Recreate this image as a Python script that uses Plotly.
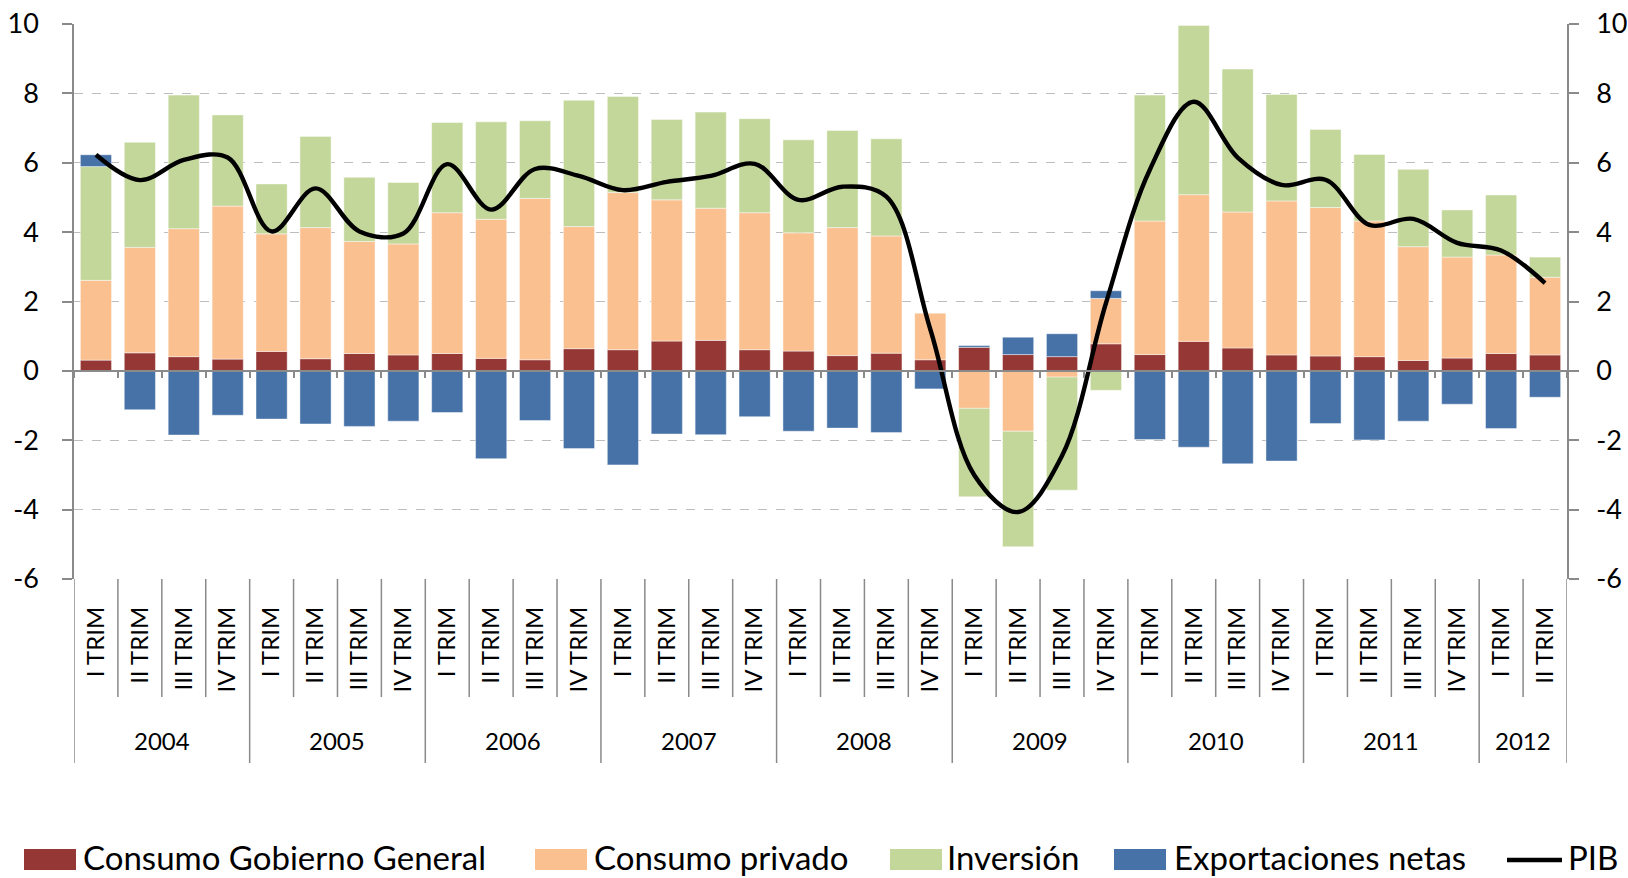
import plotly.graph_objects as go

# ---------------- data ----------------
year_labels = ["2004", "2005", "2006", "2007", "2008", "2009", "2010", "2011", "2012"]
quarters_per_year = [4, 4, 4, 4, 4, 4, 4, 4, 2]
quarter_names = ["I TRIM", "II TRIM", "III TRIM", "IV TRIM"]

consumo_gobierno = [0.31, 0.52, 0.41, 0.34, 0.56, 0.35, 0.50, 0.46, 0.50, 0.36, 0.32, 0.64,
                    0.61, 0.86, 0.88, 0.61, 0.57, 0.44, 0.51, 0.32, 0.68, 0.47, 0.41, 0.78,
                    0.47, 0.85, 0.66, 0.46, 0.43, 0.41, 0.30, 0.37, 0.50, 0.46]
consumo_privado = [2.30, 3.04, 3.69, 4.41, 3.39, 3.78, 3.23, 3.20, 4.06, 4.01, 4.65, 3.52,
                   4.53, 4.07, 3.81, 3.95, 3.41, 3.69, 3.38, 1.35, -1.08, -1.74, -0.18, 1.31,
                   3.85, 4.23, 3.92, 4.44, 4.28, 3.91, 3.28, 2.91, 2.84, 2.24]
inversion = [3.28, 3.03, 3.85, 2.63, 1.44, 2.63, 1.85, 1.77, 2.60, 2.81, 2.24, 3.64,
             2.77, 2.32, 2.77, 2.71, 2.68, 2.80, 2.80, 0.00, -2.55, -3.33, -3.26, -0.56,
             3.63, 4.88, 4.12, 3.07, 2.25, 1.92, 2.23, 1.36, 1.73, 0.58]
exportaciones = [0.34, -1.12, -1.85, -1.28, -1.39, -1.53, -1.60, -1.45, -1.20, -2.53, -1.43, -2.24,
                 -2.71, -1.82, -1.84, -1.32, -1.74, -1.65, -1.78, -0.52, 0.05, 0.50, 0.66, 0.22,
                 -1.98, -2.20, -2.68, -2.60, -1.52, -1.99, -1.45, -0.96, -1.66, -0.76]
pib = [6.23, 5.50, 6.08, 6.15, 4.02, 5.26, 4.02, 3.96, 5.96, 4.65, 5.82, 5.62,
       5.21, 5.45, 5.62, 5.97, 4.93, 5.31, 5.02, 1.20, -3.00, -4.07, -2.45, 1.95,
       5.80, 7.76, 6.15, 5.36, 5.51, 4.21, 4.38, 3.69, 3.47, 2.53]

y_range = [-6, 10]
y_ticks = [-6, -4, -2, 0, 2, 4, 6, 8, 10]
y_ticktext = [str(v) for v in y_ticks]  # plain hyphen minus, as in the reference

# ---------------- derived categories ----------------
quarter_labels = []
categories = []
for yl, nq in zip(year_labels, quarters_per_year):
    for q in quarter_names[:nq]:
        quarter_labels.append(q)
        categories.append(f"{q} {yl}")
n = len(categories)

# ---------------- styling ----------------
W, H = 1628, 878
ML, MR, MT, MB = 74, 61, 24, 299
PW, PH = W - ML - MR, H - MT - MB
FONT = "Lato, 'Open Sans', sans-serif"
AXIS_GRAY = "#8a8a8a"
GRID_GRAY = "#bdbdbd"

C_GOB = "#953735"
C_PRIV = "#FAC090"
C_INV = "#C4D79B"
C_EXP = "#4672A8"


def px_x(p):
    return (p - ML) / PW


def px_y(p):
    return (H - MB - p) / PH


fig = go.Figure()
edge = dict(color="rgba(255,255,255,0.55)", width=0.8)
for name, vals, col in [("Consumo Gobierno General", consumo_gobierno, C_GOB),
                        ("Consumo privado", consumo_privado, C_PRIV),
                        ("Inversión", inversion, C_INV),
                        ("Exportaciones netas", exportaciones, C_EXP)]:
    fig.add_trace(go.Bar(x=categories, y=vals, name=name, marker=dict(color=col, line=edge),
                         showlegend=False, xaxis="x", yaxis="y"))

fig.add_trace(go.Scatter(x=categories, y=pib, name="PIB", mode="lines",
                         line=dict(color="black", width=4.4, shape="spline", smoothing=1.0),
                         showlegend=False, xaxis="x2", yaxis="y2"))

zero_pos = (0 - y_range[0]) / (y_range[1] - y_range[0])

yaxis_common = dict(range=y_range, tickmode="array", tickvals=y_ticks, ticktext=y_ticktext,
                    zeroline=False, showline=True, linecolor=AXIS_GRAY, linewidth=1.5,
                    ticks="outside", ticklen=10, tickcolor=AXIS_GRAY, tickwidth=1.5,
                    tickfont=dict(size=27, family=FONT, color="black"), automargin=False)

fig.update_layout(
    width=W, height=H,
    margin=dict(l=ML, r=MR, t=MT, b=MB, autoexpand=False),
    paper_bgcolor="white", plot_bgcolor="white",
    barmode="relative", bargap=0.29,
    font=dict(family=FONT, color="black"),
    xaxis=dict(type="category", range=[-0.5, n - 0.5], showgrid=False, showline=False,
               zeroline=False, ticks="", tickmode="array", tickvals=categories,
               ticktext=quarter_labels, tickangle=-90, automargin=False,
               tickfont=dict(size=24, family=FONT, color="black"), ticklabelstandoff=22),
    xaxis2=dict(type="category", overlaying="x", anchor="free", position=zero_pos,
                range=[-0.5, n - 0.5], showgrid=False, showline=True, linecolor=AXIS_GRAY,
                linewidth=2, ticks="outside", tickson="boundaries", ticklen=6,
                tickcolor=AXIS_GRAY, tickwidth=1.5, showticklabels=False, zeroline=False,
                automargin=False),
    yaxis=dict(showgrid=True, gridcolor=GRID_GRAY, gridwidth=1.3, griddash="dash",
               ticklabelstandoff=18, **yaxis_common),
    yaxis2=dict(overlaying="y", side="right", anchor="x", showgrid=False,
                ticklabelstandoff=12, **yaxis_common),
)

# separators under the category axis
shapes = []
year_bounds = [0]
for nq in quarters_per_year:
    year_bounds.append(year_bounds[-1] + nq)
for i in range(n + 1):
    bottom = 763 if i in year_bounds else 697
    shapes.append(dict(type="line", xref="x", yref="paper", x0=i - 0.5, x1=i - 0.5,
                       y0=0, y1=px_y(bottom), line=dict(color=AXIS_GRAY, width=1.5)))

annotations = []
for k, yl in enumerate(year_labels):
    center = (year_bounds[k] + year_bounds[k + 1] - 1) / 2
    annotations.append(dict(text=yl, xref="x", yref="paper", x=center, y=px_y(740),
                            showarrow=False, xanchor="center", yanchor="middle",
                            font=dict(size=24, family=FONT, color="black")))

# custom legend
legend_items = [
    ("Consumo Gobierno General", C_GOB, 24, 81),
    ("Consumo privado", C_PRIV, 535, 592),
    ("Inversión", C_INV, 890, 945),
    ("Exportaciones netas", C_EXP, 1114, 1172),
]
LEG_Y = 857
for label, col, sx, tx in legend_items:
    shapes.append(dict(type="rect", xref="paper", yref="paper", x0=px_x(sx), x1=px_x(sx + 52),
                       y0=px_y(870), y1=px_y(849), fillcolor=col, line=dict(width=0)))
    annotations.append(dict(text=label, xref="paper", yref="paper", x=px_x(tx), y=px_y(LEG_Y),
                            showarrow=False, xanchor="left", yanchor="middle",
                            font=dict(size=33, family=FONT, color="black")))
shapes.append(dict(type="line", xref="paper", yref="paper", x0=px_x(1507), x1=px_x(1562),
                   y0=px_y(860), y1=px_y(860), line=dict(color="black", width=4.4)))
annotations.append(dict(text="PIB", xref="paper", yref="paper", x=px_x(1566), y=px_y(LEG_Y),
                        showarrow=False, xanchor="left", yanchor="middle",
                        font=dict(size=33, family=FONT, color="black")))

fig.update_layout(shapes=shapes, annotations=annotations)
fig.write_html("out.html", config={"displayModeBar": False},
               post_script="document.body.style.margin='0';document.body.style.overflow='hidden';")
